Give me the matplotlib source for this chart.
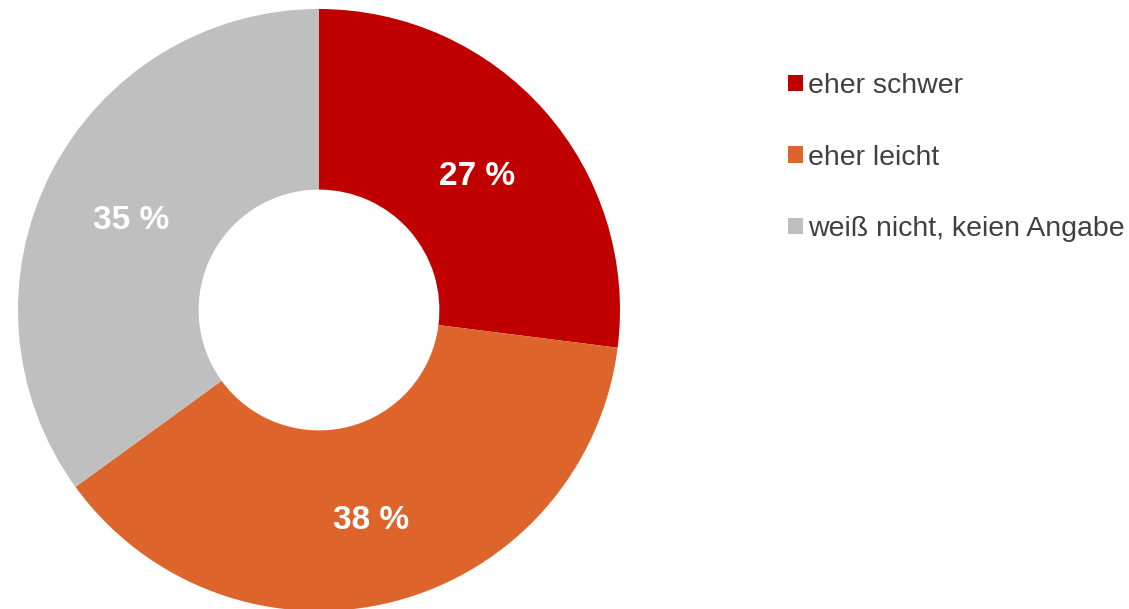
import matplotlib.pyplot as plt
import numpy as np

labels = ["eher schwer", "eher leicht", "weiß nicht, keien Angabe"]
values = [27, 38, 35]
colors = ["#C00000", "#DD652C", "#BFBFBF"]

plt.rcParams['font.family'] = ['Liberation Sans', 'DejaVu Sans']

W, H = 1129, 609
fig = plt.figure(figsize=(W / 100, H / 100), dpi=100)
# donut: centre (319, 310) px, radius 301 px
cx, cy, r = 319, 310, 301
ax = fig.add_axes([(cx - r) / W, (H - cy - r) / H, 2 * r / W, 2 * r / H])

wedges, texts = ax.pie(values, colors=colors, startangle=90, counterclock=False,
                       radius=1, wedgeprops=dict(width=0.6, linewidth=0))
ax.set_xlim(-1, 1)
ax.set_ylim(-1, 1)
ax.set_aspect('equal')

# percent labels in the ring
for w, v in zip(wedges, values):
    mid = np.deg2rad((w.theta1 + w.theta2) / 2)
    ax.text(0.7 * np.cos(mid), 0.7 * np.sin(mid) - 0.02, f"{v} %", ha='center',
            va='center', color='white', fontsize=24, fontweight='bold')

leg = fig.legend(wedges, labels, loc='upper left', bbox_to_anchor=(788 / W, 1 - 73 / H),
                 frameon=False, fontsize=20.5, handlelength=0.53, handleheight=0.53,
                 handletextpad=0.18, labelspacing=1.6, labelcolor='#404040',
                 borderaxespad=0, borderpad=0)

fig.savefig("out.png", dpi=100)
